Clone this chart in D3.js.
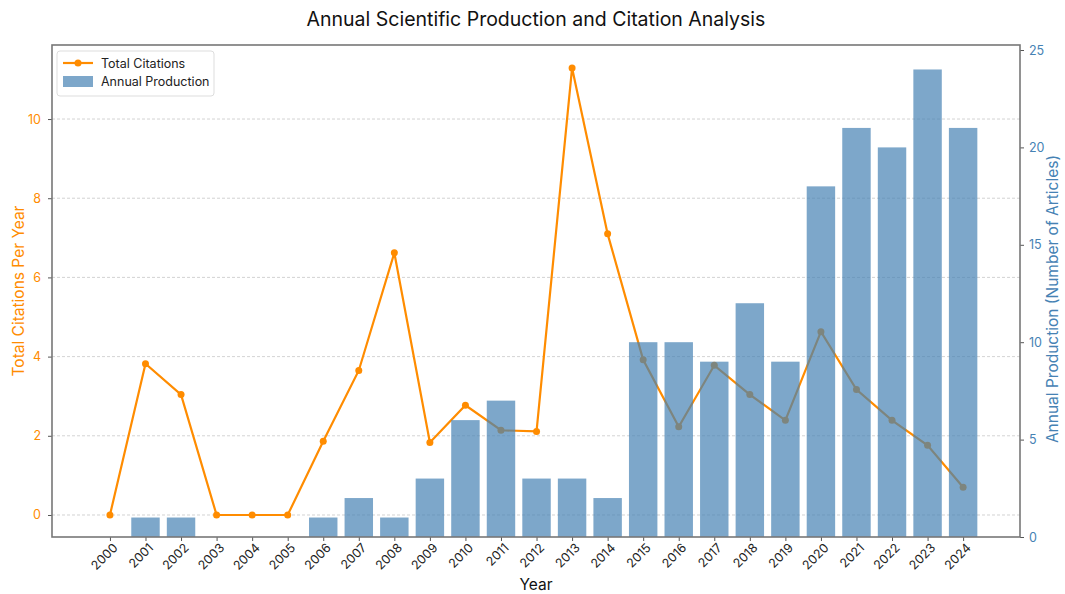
<!DOCTYPE html>
<html><head><meta charset="utf-8">
<script src="https://cdn.jsdelivr.net/npm/d3@7"></script>
<style>body{margin:0;background:#fff;font-family:Inter,"Open Sans",sans-serif}</style>
</head><body><svg id="c" width="1065" height="594"></svg>
<script>
const years = ["2000","2001","2002","2003","2004","2005","2006","2007","2008","2009","2010","2011","2012","2013","2014","2015","2016","2017","2018","2019","2020","2021","2022","2023","2024"];
const citations = [0,3.82,3.04,0,0,0,1.86,3.65,6.62,1.83,2.77,2.14,2.11,11.29,7.1,3.92,2.23,3.78,3.04,2.39,4.63,3.17,2.39,1.76,0.70];
const production = [0,1,1,0,0,0,1,2,1,3,6,7,3,3,2,10,10,9,12,9,18,21,20,24,21];
const leftTicks = [0,2,4,6,8,10];
const rightTicks = [0,5,10,15,20,25];

const svg = d3.select("#c");
const L = 52, R = 1020, T = 45, B = 537;
const orange = "#ff8c00", blue = "steelblue";
const x = d3.scaleLinear().domain([-1.63, 25.6]).range([L, R]);
const yL = d3.scaleLinear().domain([-0.556, 11.87]).range([B, T]);
const yR = d3.scaleLinear().domain([0, 25]).range([B, T + 5]);
const step = x(1) - x(0);

// grid
svg.append("g").selectAll("line").data(leftTicks).join("line")
  .attr("x1", L).attr("x2", R).attr("y1", d => yL(d)).attr("y2", d => yL(d))
  .attr("stroke", "#c8c8c8").attr("stroke-width", 0.8).attr("stroke-dasharray", "3,2");

// line (left axis)
const line = d3.line().x((d, i) => x(i)).y(d => yL(d));
svg.append("path").datum(citations).attr("d", line)
  .attr("fill", "none").attr("stroke", orange).attr("stroke-width", 2.2);
svg.append("g").selectAll("circle").data(citations).join("circle")
  .attr("cx", (d, i) => x(i)).attr("cy", d => yL(d)).attr("r", 3.5).attr("fill", orange);

// bars (right axis, on top)
svg.append("g").selectAll("rect").data(production).join("rect")
  .attr("x", (d, i) => x(i) - step * 0.4).attr("width", step * 0.8)
  .attr("y", d => yR(d)).attr("height", d => yR(0) - yR(d))
  .attr("fill", blue).attr("fill-opacity", 0.7);

// axes
const axL = svg.append("g").attr("transform", `translate(${L},0)`)
  .call(d3.axisLeft(yL).tickValues(leftTicks).tickSize(4).tickPadding(7).tickFormat(d3.format("d")));
axL.selectAll("text").attr("fill", orange).style("font-size", "12.5px").style("font-family", "Inter,sans-serif");
const axR = svg.append("g").attr("transform", `translate(${R},0)`)
  .call(d3.axisRight(yR).tickValues(rightTicks).tickSize(4).tickPadding(5).tickFormat(d3.format("d")));
axR.selectAll("text").attr("fill", blue).style("font-size", "12.5px").style("font-family", "Inter,sans-serif");
const axB = svg.append("g").attr("transform", `translate(0,${B})`)
  .call(d3.axisBottom(x).tickValues(d3.range(years.length)).tickFormat(i => years[i]).tickSize(4));
axB.selectAll("text").attr("fill", "#222").style("font-size", "12.5px").style("font-family", "Inter,sans-serif")
  .attr("text-anchor", "end").attr("dx", "-0.2em").attr("dy", "0.55em").attr("transform", "rotate(-45)");
[axL, axR, axB].forEach(a => { a.select(".domain").remove(); a.selectAll("line").attr("stroke", "#555"); });

// frame
svg.append("rect").attr("x", L).attr("y", T).attr("width", R - L).attr("height", B - T)
  .attr("fill", "none").attr("stroke", "#777").attr("stroke-width", 1.6);

// labels
svg.append("text").attr("x", 536).attr("y", 26).attr("text-anchor", "middle")
  .style("font-size", "19.5px").attr("fill", "#111").text("Annual Scientific Production and Citation Analysis");
svg.append("text").attr("x", 536).attr("y", 590).attr("text-anchor", "middle")
  .style("font-size", "15.5px").attr("fill", "#111").text("Year");
svg.append("text").attr("transform", `translate(24,${(T + B) / 2}) rotate(-90)`).attr("text-anchor", "middle")
  .style("font-size", "15.5px").attr("fill", orange).text("Total Citations Per Year");
svg.append("text").attr("transform", `translate(1058,${(T + B) / 2 + 8}) rotate(-90)`).attr("text-anchor", "middle")
  .style("font-size", "15.5px").attr("fill", blue).text("Annual Production (Number of Articles)");

// legend
const lg = svg.append("g").attr("transform", "translate(57,51)");
lg.append("rect").attr("width", 157).attr("height", 45).attr("rx", 3)
  .attr("fill", "#fff").attr("fill-opacity", 0.85).attr("stroke", "#ddd");
lg.append("line").attr("x1", 6).attr("x2", 36).attr("y1", 12).attr("y2", 12).attr("stroke", orange).attr("stroke-width", 2.2);
lg.append("circle").attr("cx", 21).attr("cy", 12).attr("r", 3.5).attr("fill", orange);
lg.append("rect").attr("x", 6).attr("y", 25).attr("width", 30).attr("height", 11).attr("fill", blue).attr("fill-opacity", 0.7);
lg.append("text").attr("x", 44).attr("y", 16.5).style("font-size", "12.5px").attr("fill", "#222").text("Total Citations");
lg.append("text").attr("x", 44).attr("y", 35).style("font-size", "12.5px").attr("fill", "#222").text("Annual Production");
</script></body></html>
